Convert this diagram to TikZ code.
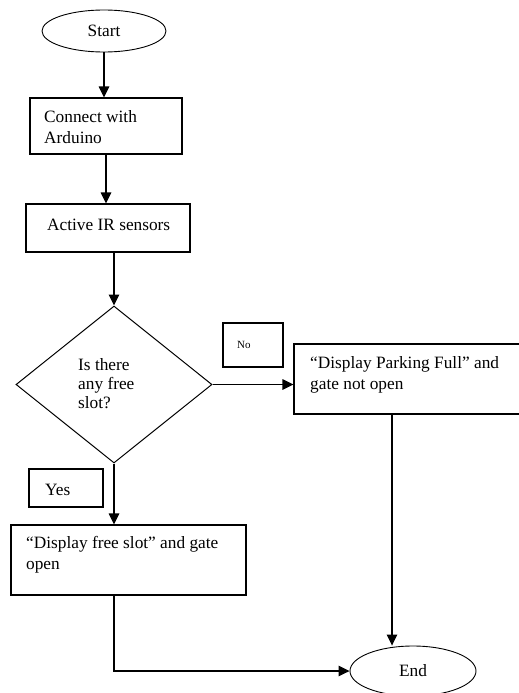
\documentclass[tikz,border=0pt]{standalone}
\usepackage{fontspec}
\setmainfont{Liberation Serif}
\usetikzlibrary{shapes.geometric,arrows.meta}
\begin{document}
\begin{tikzpicture}[x=1pt,y=-1pt,
  flow/.style={draw, line width=1.1pt, inner sep=0pt},
  term/.style={draw, ellipse, line width=0.9pt, inner sep=0pt, font=\fontsize{17.3}{21}\selectfont},
  txt/.style={anchor=north west, inner sep=0pt, font=\fontsize{17.3}{21}\selectfont, align=left},
  dtxt/.style={anchor=north west, inner sep=0pt, font=\fontsize{17.3}{19}\selectfont, align=left},
  arr/.style={line width=1.1pt, -{Triangle[length=11pt,width=10.5pt]}},
  lin/.style={line width=1.1pt}]
\useasboundingbox (0,0) rectangle (519,693);

% terminals
\node[term, minimum width=124, minimum height=42] (start) at (104,31) {Start};
\node[term, minimum width=126, minimum height=50] (en) at (413,671) {End};

% boxes
\node[flow, minimum width=152, minimum height=56] (b1) at (106,126) {};
\node[flow, minimum width=164, minimum height=48] (b2) at (108,228) {};
\node[flow, diamond, line width=1pt, minimum width=196, minimum height=157] (dia) at (114,384.5) {};
\node[flow, minimum width=232, minimum height=70] (b3) at (410,379) {};
\node[flow, minimum width=235, minimum height=70] (b4) at (128.5,560) {};
\node[flow, minimum width=60, minimum height=44] (nobox) at (253,345) {};
\node[flow, minimum width=74, minimum height=38] (yesbox) at (66,488) {};

% texts
\node[txt] (t1) at (44,107.3) {\strut Connect with\\Arduino};
\node[txt] (t2) at (47,215.3) {\strut Active IR sensors};
\node[dtxt] (td) at (78,356.7) {\strut Is there\\any free\\slot?};
\node[txt] (t3) at (310,353.3) {\strut “Display Parking Full” and\\gate not open};
\node[txt] (t4) at (26,533.3) {\strut “Display free slot” and gate\\open};
\node[anchor=base west, inner sep=0pt, font=\fontsize{11}{13}\selectfont] (tno) at (237,348) {No};
\node[anchor=base west, inner sep=0pt, font=\fontsize{17.3}{21}\selectfont] (tyes) at (45,495) {Yes};

% connectors
\coordinate (c3) at (392,0);
\coordinate (c4) at (114,0);
\draw[arr] (start.south) -- (start.south |- b1.north);
\draw[arr] (b1.south) -- (b1.south |- b2.north);
\draw[arr] (dia.north |- b2.south) -- (dia.north);
\draw[arr] (dia.east) -- (dia.east -| b3.west);
\draw[arr] (dia.south) -- (dia.south |- b4.north);
\draw[arr] (b3.south -| c3) -- (c3 |- en.north);
\draw[arr] (b4.south -| c4) -- (c4 |- en.west) -- (en.west);
\end{tikzpicture}
\end{document}
